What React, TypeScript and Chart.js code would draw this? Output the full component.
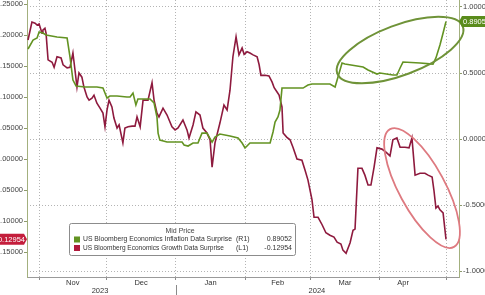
import { useEffect, useRef } from "react";
import { Chart, registerables } from "chart.js";

Chart.register(...registerables);

// x values are calendar days counted from 1 Oct 2023 (day 31 = 1 Nov 2023)
const growthDays = [
  26.05, 27.8, 29.2, 30.1, 31.0, 32.3, 32.7, 33.6, 34.1, 35.0,
  36.8, 37.7, 39.0, 40.8, 41.7, 43.5, 44.8, 46.1, 47.0, 47.9,
  48.8, 50.1, 51.0, 52.4, 53.3, 54.6, 55.5, 56.8, 58.2, 59.5,
  60.4, 61.3, 62.2, 63.5, 64.4, 65.8, 66.7, 68.4, 69.3, 70.7,
  72.5, 73.8, 74.7, 76.1, 77.4, 79.6, 81.4, 82.3, 83.6, 84.5,
  86.3, 88.1, 90.3, 91.7, 93.0, 95.2, 97.0, 97.9, 99.7, 101.0,
  102.8, 104.1, 105.9, 107.3, 108.2, 109.5, 111.7, 113.5, 114.9, 116.2,
  117.5, 118.9, 120.2, 121.6, 122.5, 123.8, 125.1, 126.5, 128.3, 129.2,
  130.0, 131.8, 133.6, 135.0, 135.9, 137.2, 138.1, 139.4, 139.9, 141.6,
  143.0, 144.3, 146.1, 148.3, 149.7, 151.0, 152.8, 153.7, 155.5, 157.3,
  159.0, 160.8, 162.6, 164.0, 165.7, 166.6, 168.0, 169.8, 171.1, 172.0,
  173.3, 175.1, 176.4, 177.8, 179.1, 180.5, 181.8, 184.0, 185.8, 187.6,
  188.9, 190.7, 192.1, 194.3, 196.1, 197.4, 198.8, 201.0, 203.2, 204.6,
  206.4, 207.2, 208.1, 209.0, 209.9, 211.3, 212.6,
];
const growthValues = [
  0.192, 0.221, 0.219, 0.216, 0.218, 0.203, 0.208, 0.211, 0.203, 0.160,
  0.156, 0.148, 0.165, 0.163, 0.152, 0.147, 0.148, 0.171, 0.144, 0.116,
  0.139, 0.132, 0.116, 0.100, 0.095, 0.098, 0.103, 0.090, 0.082, 0.074,
  0.052, 0.079, 0.095, 0.084, 0.066, 0.050, 0.055, 0.026, 0.050, 0.052,
  0.053, 0.053, 0.068, 0.052, 0.095, 0.095, 0.123, 0.095, 0.074, 0.068,
  0.082, 0.071, 0.052, 0.047, 0.050, 0.063, 0.047, 0.034, 0.055, 0.076,
  0.071, 0.050, 0.042, 0.031, -0.013, 0.026, 0.058, 0.087, 0.079, 0.111,
  0.165, 0.197, 0.168, 0.179, 0.169, 0.173, 0.171, 0.168, 0.165, 0.152,
  0.135, 0.135, 0.134, 0.124, 0.115, 0.108, 0.103, 0.084, 0.042, 0.035,
  0.031, 0.019, 0.000, -0.002, -0.018, -0.034, -0.066, -0.094, -0.094, -0.106,
  -0.119, -0.123, -0.126, -0.134, -0.137, -0.147, -0.152, -0.135, -0.115, -0.113,
  -0.015, -0.015, -0.026, -0.042, -0.042, -0.013, 0.018, 0.016, 0.011, 0.005,
  0.031, 0.034, 0.019, 0.019, 0.018, 0.034, -0.026, -0.023, -0.023, -0.026,
  -0.029, -0.050, -0.079, -0.076, -0.082, -0.087, -0.12954,
];

const inflationDays = [
  26.05, 28.3, 30.1, 31.0, 32.7, 34.1, 39.0, 43.5, 44.8, 46.1,
  47.5, 51.5, 56.8, 59.5, 61.3, 62.6, 65.8, 70.2, 71.6, 72.9,
  74.2, 75.1, 80.5, 82.3, 83.6, 84.1, 84.9, 88.1, 94.8, 95.7,
  97.5, 99.7, 101.9, 103.7, 105.9, 108.2, 109.5, 111.7, 116.2, 119.8,
  121.6, 122.9, 125.1, 126.5, 134.1, 135.4, 136.3, 137.6, 138.5, 139.4,
  140.7, 148.8, 151.0, 152.8, 160.8, 163.1, 164.4, 166.2, 167.5, 175.6,
  177.8, 181.8, 183.1, 188.9, 190.7, 192.1, 193.4, 201.0, 206.8, 208.1,
  209.9, 211.3, 212.6,
];
const inflationValues = [
  0.682, 0.750, 0.765, 0.811, 0.803, 0.788, 0.773, 0.765, 0.621, 0.447,
  0.402, 0.394, 0.394, 0.386, 0.311, 0.326, 0.326, 0.318, 0.318, 0.348,
  0.258, 0.303, 0.303, 0.273, 0.167, 0.045, -0.008, -0.023, -0.023, -0.045,
  -0.053, -0.030, -0.030, 0.045, 0.045, -0.023, 0.015, 0.038, 0.023, 0.008,
  -0.030, -0.068, -0.030, -0.030, -0.030, 0.053, 0.129, 0.167, 0.220, 0.386,
  0.386, 0.386, 0.409, 0.417, 0.417, 0.394, 0.470, 0.576, 0.568, 0.545,
  0.523, 0.492, 0.500, 0.485, 0.485, 0.538, 0.583, 0.576, 0.568, 0.614,
  0.712, 0.803, 0.89052,
];

const monthStarts = [31, 61, 92, 123, 152, 183, 213];
const monthNames = ["Nov", "Dec", "Jan", "Feb", "Mar", "Apr"];
const monthLabelDays = [46, 76.5, 107.5, 137.5, 167.5, 193.5];
const yearNames = ["2023", "2024"];
const yearLabelDays = [58.2, 155];
const yearBoundary = 92;
const leftTicks = [-0.15, -0.1, -0.05, 0, 0.05, 0.1, 0.15, 0.2, 0.25];
const rightTicks = [-1, -0.5, 0, 0.5, 1];

const legendTitle = "Mid Price";
const inflationName = "US Bloomberg Economics Inflation Data Surprise";
const growthName = "US Bloomberg Economics Growth Data Surprise";
const inflationAxisTag = "(R1)";
const growthAxisTag = "(L1)";
const lastInflation = 0.89052;
const lastGrowth = -0.12954;

const GREEN = "#639322";
const RED = "#8e1a3e";
const FONT = "'Liberation Sans', Arial, sans-serif";

function fitText(ctx: any, text: string, x: number, y: number, width: number) {
  const w = ctx.measureText(text).width;
  const k = Math.min(1, width / w);
  ctx.save();
  ctx.translate(x, y);
  ctx.scale(k, 1);
  ctx.fillText(text, 0, 0);
  ctx.restore();
}

const overlayPlugin = {
  id: "overlay",
  afterDatasetsDraw(chart: any) {
    const ctx = chart.ctx;
    const x = chart.scales.x;
    const yL = chart.scales.yL;
    const yR = chart.scales.yR;
    ctx.save();
    ctx.strokeStyle = "#6f9338";
    ctx.lineWidth = 2;
    ctx.beginPath();
    ctx.ellipse(x.getPixelForValue(192.1), yR.getPixelForValue(0.674), 67, 25, (-20.6 * Math.PI) / 180, 0, Math.PI * 2);
    ctx.stroke();
    ctx.strokeStyle = "#de7a80";
    ctx.lineWidth = 1.8;
    ctx.beginPath();
    ctx.ellipse(x.getPixelForValue(201.9), yL.getPixelForValue(-0.0468), 67, 23, (61.5 * Math.PI) / 180, 0, Math.PI * 2);
    ctx.stroke();
    ctx.restore();
  },
  afterDraw(chart: any) {
    const ctx = chart.ctx;
    const x = chart.scales.x;
    const yL = chart.scales.yL;
    const yR = chart.scales.yR;
    const area = chart.chartArea;
    ctx.save();
    ctx.textBaseline = "middle";
    ctx.fillStyle = "#333";
    ctx.font = `7.5px ${FONT}`;
    ctx.textAlign = "center";
    monthNames.forEach((m, i) => {
      ctx.fillText(m, x.getPixelForValue(monthLabelDays[i]), area.bottom + 6);
    });
    yearNames.forEach((m, i) => {
      ctx.fillText(m, x.getPixelForValue(yearLabelDays[i]), area.bottom + 14);
    });
    const yb = Math.round(x.getPixelForValue(yearBoundary)) + 0.5;
    ctx.strokeStyle = "#8a8a8a";
    ctx.lineWidth = 1;
    ctx.beginPath();
    ctx.moveTo(yb, area.bottom + 8);
    ctx.lineTo(yb, area.bottom + 18);
    ctx.stroke();

    // legend box
    const lx = 69.5, ly = 223.5, lw = 226, lh = 32;
    ctx.fillStyle = "#ffffff";
    ctx.strokeStyle = "#8c8c8c";
    ctx.lineWidth = 1;
    ctx.beginPath();
    ctx.roundRect(lx, ly, lw, lh, 2);
    ctx.fill();
    ctx.stroke();
    ctx.fillStyle = "#444";
    ctx.font = `7px ${FONT}`;
    ctx.textAlign = "center";
    ctx.fillText(legendTitle, 180, 231);
    const rows = [
      { c: GREEN, n: inflationName, t: inflationAxisTag, v: lastInflation.toFixed(5), y: 239.5, w: 149 },
      { c: "#b01a3c", n: growthName, t: growthAxisTag, v: lastGrowth.toFixed(5), y: 248, w: 141 },
    ];
    rows.forEach((r) => {
      ctx.fillStyle = r.c;
      ctx.fillRect(74, r.y - 3, 6, 6);
      ctx.fillStyle = "#333";
      ctx.textAlign = "left";
      fitText(ctx, r.n, 83, r.y, r.w);
      ctx.fillText(r.t, 236, r.y);
      ctx.textAlign = "right";
      ctx.fillText(r.v, 292, r.y);
    });

    // value tags
    const gy = yR.getPixelForValue(lastInflation);
    ctx.fillStyle = "#5a8c1c";
    ctx.beginPath();
    ctx.moveTo(area.right, gy);
    ctx.lineTo(area.right + 3, gy - 5.5);
    ctx.lineTo(485, gy - 5.5);
    ctx.lineTo(485, gy + 5.5);
    ctx.lineTo(area.right + 3, gy + 5.5);
    ctx.closePath();
    ctx.fill();
    ctx.fillStyle = "#ffffff";
    ctx.font = `7.5px ${FONT}`;
    ctx.textAlign = "left";
    ctx.fillText(lastInflation.toFixed(5), area.right + 4, gy + 0.5);

    const ry = yL.getPixelForValue(lastGrowth);
    ctx.fillStyle = "#c41e3c";
    ctx.beginPath();
    ctx.moveTo(0, ry - 5.5);
    ctx.lineTo(area.left - 3, ry - 5.5);
    ctx.lineTo(area.left, ry);
    ctx.lineTo(area.left - 3, ry + 5.5);
    ctx.lineTo(0, ry + 5.5);
    ctx.closePath();
    ctx.fill();
    ctx.fillStyle = "#ffffff";
    ctx.textAlign = "right";
    ctx.fillText(lastGrowth.toFixed(5), area.left - 2, ry + 0.5);
    ctx.restore();
  },
};

export default function App() {
  const ref = useRef<HTMLCanvasElement | null>(null);
  useEffect(() => {
    if (!ref.current) return;
    const zeroPad = (s: any) => {
      s.paddingTop = 0;
      s.paddingBottom = 0;
      s.paddingLeft = 0;
      s.paddingRight = 0;
    };
    const chart = new Chart(ref.current, {
      type: "line",
      data: {
        datasets: [
          {
            label: inflationName,
            data: inflationDays.map((d, i) => ({ x: d, y: inflationValues[i] })),
            yAxisID: "yR",
            borderColor: GREEN,
            borderWidth: 1.6,
            pointRadius: 0,
            tension: 0,
          },
          {
            label: growthName,
            data: growthDays.map((d, i) => ({ x: d, y: growthValues[i] })),
            yAxisID: "yL",
            borderColor: RED,
            borderWidth: 1.6,
            pointRadius: 0,
            tension: 0,
          },
        ],
      },
      options: {
        animation: false,
        responsive: false,
        maintainAspectRatio: false,
        layout: { padding: 0, autoPadding: false },
        plugins: { legend: { display: false }, tooltip: { enabled: false } },
        scales: {
          x: {
            type: "linear",
            min: 25.6,
            max: 218.4,
            afterBuildTicks: (s: any) => {
              s.ticks = monthStarts.map((v) => ({ value: v }));
            },
            afterFit: (s: any) => {
              s.height = 18;
              zeroPad(s);
            },
            ticks: { display: false },
            grid: { color: "#b4b4b4", lineWidth: 1, drawTicks: true, tickLength: 3, tickColor: "#8a8a8a" },
            border: { display: true, color: "#9a9a9a", width: 1, dash: [1, 2] },
          },
          yL: {
            type: "linear",
            position: "left",
            min: -0.1903,
            max: 0.2565,
            afterBuildTicks: (s: any) => {
              s.ticks = leftTicks.map((v) => ({ value: v }));
            },
            afterFit: (s: any) => {
              s.width = 27;
              zeroPad(s);
            },
            ticks: {
              padding: 1,
              color: "#444",
              font: { family: FONT, size: 7.5 },
              callback: (v: any) => Number(v).toFixed(5),
            },
            grid: { drawOnChartArea: false, drawTicks: true, tickLength: 3, tickColor: "#8d9a6c" },
            border: { display: true, color: "#a3b07e", width: 1 },
          },
          yR: {
            type: "linear",
            position: "right",
            min: -1.045,
            max: 1.053,
            afterBuildTicks: (s: any) => {
              s.ticks = rightTicks.map((v) => ({ value: v }));
            },
            afterFit: (s: any) => {
              s.width = 26;
              zeroPad(s);
            },
            ticks: {
              padding: 1,
              color: "#444",
              font: { family: FONT, size: 7.5 },
              callback: (v: any) => Number(v).toFixed(4),
            },
            grid: { color: "#b4b4b4", drawTicks: true, tickLength: 3, tickColor: "#8d9a6c" },
            border: { display: true, color: "#a3b07e", width: 1, dash: [1, 2] },
          },
        },
      },
      plugins: [overlayPlugin],
    } as any);
    return () => chart.destroy();
  }, []);
  return (
    <div style={{ position: "absolute", left: 0, top: 0, width: 485, height: 295, background: "#fff" }}>
      <canvas ref={ref} width={485} height={295} style={{ display: "block" }} />
    </div>
  );
}
